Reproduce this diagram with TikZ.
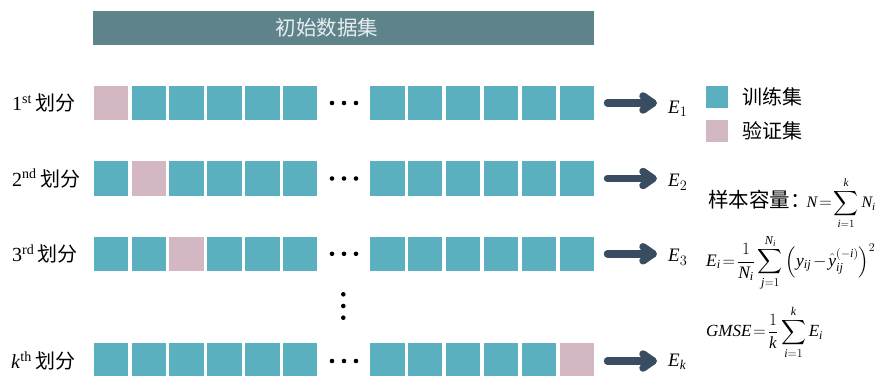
\documentclass[tikz,border=0pt]{standalone}
\usepackage{amsmath}
\usepackage{fontspec}
\setmainfont{Liberation Serif}
\newfontfamily\cjk{Noto Sans CJK SC}
\usetikzlibrary{calc}
\definecolor{teal1}{HTML}{5BB0C0}
\definecolor{pink1}{HTML}{D3B8C3}
\definecolor{hdr}{HTML}{5F838B}
\definecolor{hdrtext}{HTML}{E8EEF0}
\definecolor{arr}{HTML}{3A4D60}
\newcommand{\myit}[1]{\mathit{#1}}
\newcommand{\tightmath}{\thickmuskip=2mu plus 1mu\relax\medmuskip=2mu\relax}
\begin{document}
\begin{tikzpicture}[x=1pt,y=-1pt,
  sq/.style={anchor=north west,minimum width=34.5pt,minimum height=34.3pt,inner sep=0pt,outer sep=0pt,draw=none},
  lbl/.style={anchor=west,inner sep=0pt,font=\fontsize{20}{24}\selectfont},
  elbl/.style={anchor=base west,inner sep=0pt,font=\fontsize{19}{22}\selectfont},
  shaft/.style={draw=arr,line width=7.5pt,line cap=round,line join=round},
  dot/.style={circle,fill=black,inner sep=0pt,minimum size=4.6pt},
  legtext/.style={anchor=west,inner sep=0pt,font=\fontsize{20}{24}\selectfont\cjk},
  formula/.style={anchor=west,inner sep=0pt}]
\useasboundingbox (0,0) rectangle (880,375);
\clip (0,0) rectangle (880,375);
% header
\node[anchor=north west,minimum width=501pt,minimum height=34pt,inner sep=0pt,fill=hdr] (hdr) at (93,11) {};
\node[text=hdrtext,font=\fontsize{20.5}{24}\selectfont\cjk,inner sep=0pt] (hdrt) at (327,28) {初始数据集};
% rows of squares
\foreach \r/\y/\pl/\pr in {1/86/0/9, 2/161.3/1/9, 3/236.7/2/9, k/343.3/9/5}{
  \foreach \c in {0,...,5}{
    \ifnum\c=\pl\relax\def\coll{pink1}\else\def\coll{teal1}\fi
    \ifnum\c=\pr\relax\def\colr{pink1}\else\def\colr{teal1}\fi
    \node[sq,fill=\coll] (r\r l\c) at ({93.7+37.85*\c},\y) {};
    \node[sq,fill=\colr] (r\r r\c) at ({370+37.9*\c},\y) {};
  }
}
% horizontal dots
\foreach \r/\yc in {1/103, 2/178.5, 3/253.8, k/361}{
  \node[dot] (d\r a) at (332,\yc) {};
  \node[dot] (d\r b) at (344,\yc) {};
  \node[dot] (d\r c) at (356,\yc) {};
}
% vertical dots
\node[dot] (v1) at (343.3,294.3) {};
\node[dot] (v2) at (343.3,306) {};
\node[dot] (v3) at (343.3,317.7) {};
% row labels
\node[lbl] (L1) at (12,103) {1\textsuperscript{st}\,{\cjk 划分}};
\node[lbl] (L2) at (12,178.5) {2\textsuperscript{nd}\,{\cjk 划分}};
\node[lbl] (L3) at (12,253.8) {3\textsuperscript{rd}\,{\cjk 划分}};
\node[lbl] (Lk) at (11,361) {\textit{k}\textsuperscript{th}\,{\cjk 划分}};
% E labels
\node[elbl] (E1) at (668,113.3) {$\myit{E}_{1}$};
\node[elbl] (E2) at (668,186.7) {$\myit{E}_{2}$};
\node[elbl] (E3) at (668,261.7) {$\myit{E}_{3}$};
\node[elbl] (Ek) at (668,366.5) {$\myit{E}_{\myit{k}}$};
% arrows
\foreach \r/\yc in {1/103, 2/178.5, 3/253.8, k/361}{
  \coordinate (a\r) at (607.5,\yc);
  \coordinate (b\r) at (653,\yc);
  \draw[shaft] (a\r) -- (b\r);
  \draw[shaft] ([shift={(-10,-7)}]b\r) -- (b\r) -- ([shift={(-10,7)}]b\r);
}
% legend
\node[anchor=north west,minimum width=21.5pt,minimum height=21.5pt,inner sep=0pt,fill=teal1] (legT) at (706,86) {};
\node[anchor=north west,minimum width=21.5pt,minimum height=21.5pt,inner sep=0pt,fill=pink1] (legP) at (706,120) {};
\node[legtext] (legTt) at (742,97) {训练集};
\node[legtext] (legPt) at (742,131) {验证集};
% formulas
\node[formula] (f1) at (708,203) {{\fontsize{20.5}{24}\selectfont\cjk 样本容量：}\hspace{-4pt}{\fontsize{16}{20}\selectfont$\tightmath\myit{N}=\displaystyle\sum_{\myit{i}=1}^{\myit{k}}\myit{N}_{\myit{i}}$}};
\node[formula,font=\fontsize{17.5}{22}\selectfont] (f2) at (706,263) {$\tightmath\displaystyle\myit{E}_{\myit{i}}=\frac{1}{\myit{N}_{\myit{i}}}\sum_{\myit{j}=1}^{\myit{N}_{\myit{i}}}\Big(\myit{y}_{\myit{ij}}-\hat{\myit{y}}_{\myit{ij}}^{(-\myit{i})}\Big)^{2}$};
\node[formula,font=\fontsize{17}{21}\selectfont] (f3) at (706,332) {$\tightmath\displaystyle\myit{GMSE}=\frac{1}{\myit{k}}\sum_{\myit{i}=1}^{\myit{k}}\myit{E}_{\myit{i}}$};
\end{tikzpicture}
\end{document}
